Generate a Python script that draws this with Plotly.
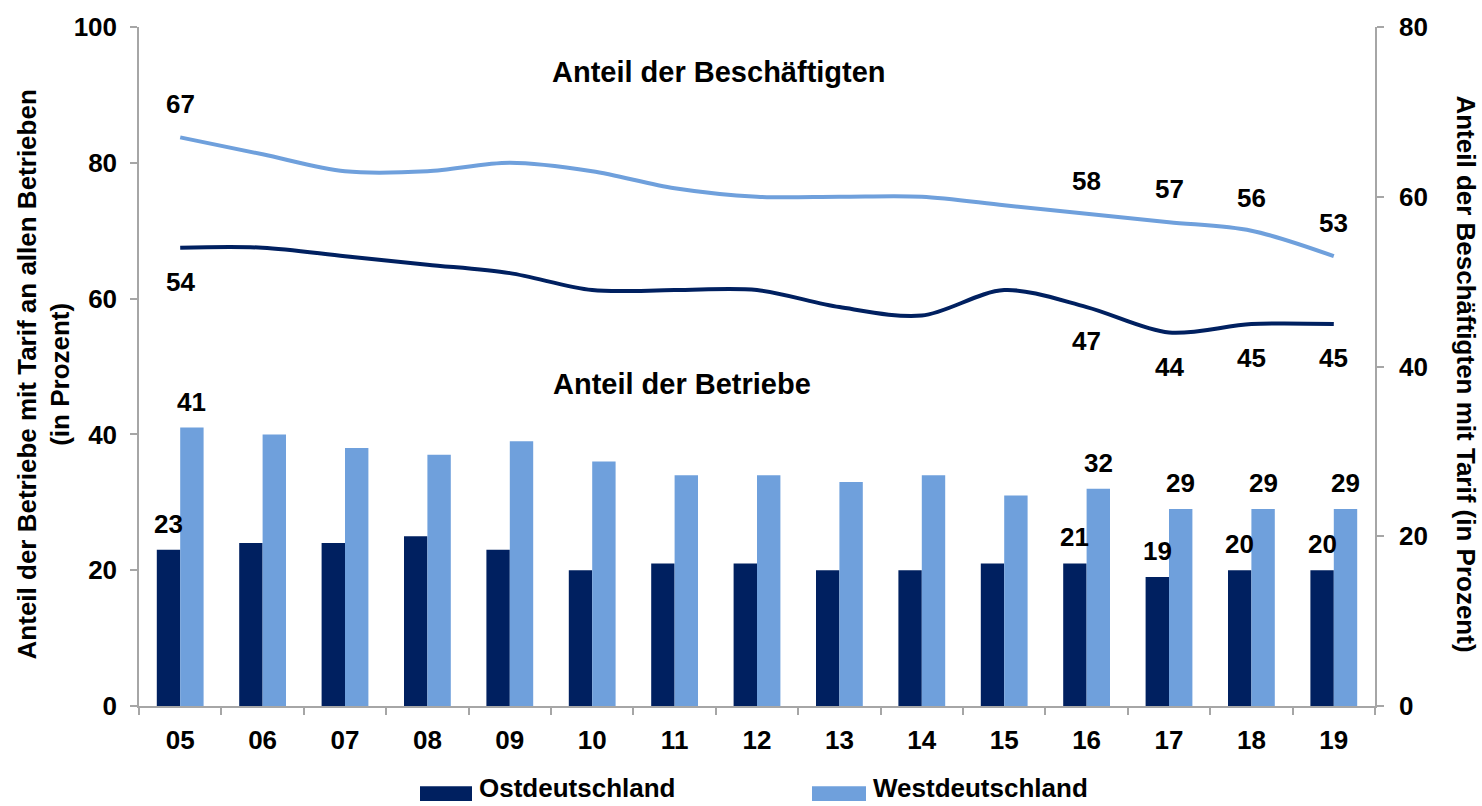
import plotly.graph_objects as go

# ---- data ----
years = ["05", "06", "07", "08", "09", "10", "11", "12", "13", "14", "15", "16", "17", "18", "19"]
ost_betriebe = [23, 24, 24, 25, 23, 20, 21, 21, 20, 20, 21, 21, 19, 20, 20]
west_betriebe = [41, 40, 38, 37, 39, 36, 34, 34, 33, 34, 31, 32, 29, 29, 29]
ost_beschaeftigte = [54, 54, 53, 52, 51, 49, 49, 49, 47, 46, 49, 47, 44, 45, 45]
west_beschaeftigte = [67, 65, 63, 63, 64, 63, 61, 60, 60, 60, 59, 58, 57, 56, 53]
labelled_years = ["05", "16", "17", "18", "19"]
series_names = ["Ostdeutschland", "Westdeutschland"]
left_ticks = [0, 20, 40, 60, 80, 100]
right_ticks = [0, 20, 40, 60, 80]

NAVY = "#002060"
LIGHT = "#6FA0DC"
AXIS = "#A6A6A6"
FONT = "Arial, 'Liberation Sans', sans-serif"

W, H = 1482, 806
ML, MR, MT, MB = 139, 107, 20, 100
PW, PH = W - ML - MR, H - MT - MB


def px_x(p):
    return (p - ML) / PW


def px_y(p):
    return (H - MB - p) / PH


fig = go.Figure()
fig.add_bar(x=years, y=ost_betriebe, name=series_names[0], marker=dict(color=NAVY, line=dict(width=0)),
            yaxis="y", showlegend=False)
fig.add_bar(x=years, y=west_betriebe, name=series_names[1], marker=dict(color=LIGHT, line=dict(width=0)),
            yaxis="y", showlegend=False)
fig.add_scatter(x=years, y=west_beschaeftigte, mode="lines", yaxis="y2", showlegend=False,
                line=dict(color=LIGHT, width=4, shape="spline", smoothing=0.9))
fig.add_scatter(x=years, y=ost_beschaeftigte, mode="lines", yaxis="y2", showlegend=False,
                line=dict(color=NAVY, width=4, shape="spline", smoothing=0.9))

lab_font = dict(family=FONT, size=26, color="black", weight="bold")
ann = []
bar_half = 11.7
for i, yr in enumerate(years):
    if yr not in labelled_years:
        continue
    ann.append(dict(x=i, y=ost_betriebe[i], xref="x", yref="y", text=str(ost_betriebe[i]), showarrow=False,
                    xshift=-bar_half, yshift=26, yanchor="middle", font=lab_font))
    ann.append(dict(x=i, y=west_betriebe[i], xref="x", yref="y", text=str(west_betriebe[i]), showarrow=False,
                    xshift=bar_half, yshift=26, yanchor="middle", font=lab_font))
    ann.append(dict(x=i, y=west_beschaeftigte[i], xref="x", yref="y2", text=str(west_beschaeftigte[i]),
                    showarrow=False, yshift=33, yanchor="middle", font=lab_font))
    ann.append(dict(x=i, y=ost_beschaeftigte[i], xref="x", yref="y2", text=str(ost_beschaeftigte[i]),
                    showarrow=False, yshift=-34, yanchor="middle", font=lab_font))

sec_font = dict(family=FONT, size=29, color="black", weight="bold")
ann.append(dict(x=px_x(719), y=px_y(65), xref="paper", yref="paper", text="Anteil der Beschäftigten",
                showarrow=False, xanchor="center", yanchor="middle", font=sec_font))
ann.append(dict(x=px_x(551), y=px_y(381), xref="paper", yref="paper", text="Anteil der Betriebe",
                showarrow=False, xanchor="left", yanchor="middle", font=sec_font))

title_font = dict(family=FONT, size=26, color="black", weight="bold")
ann.append(dict(x=px_x(44), y=px_y(371), xref="paper", yref="paper",
                text="Anteil der Betriebe mit Tarif an allen Betrieben<br>(in Prozent)",
                showarrow=False, textangle=-90, xanchor="center", yanchor="middle", font=title_font))
ann.append(dict(x=px_x(1466), y=px_y(370), xref="paper", yref="paper",
                text="Anteil der Beschäftigten mit Tarif (in Prozent)",
                showarrow=False, textangle=90, xanchor="center", yanchor="middle", font=title_font))

# custom legend
shapes = []
legend_items = [(series_names[0], NAVY, 420, 472), (series_names[1], LIGHT, 812, 866)]
for name, col, x0, x1 in legend_items:
    shapes.append(dict(type="rect", xref="paper", yref="paper", x0=px_x(x0), x1=px_x(x1),
                       y0=px_y(802), y1=px_y(787), fillcolor=col, line=dict(width=0)))
    ann.append(dict(x=px_x(x1 + 6), y=px_y(805), xref="paper", yref="paper", text=name, showarrow=False,
                    xanchor="left", yanchor="bottom", borderpad=0, font=title_font))

axis_common = dict(showline=True, linecolor=AXIS, linewidth=1.5, ticks="outside", ticklen=7,
                   tickcolor=AXIS, tickwidth=1.5, showgrid=False, zeroline=False,
                   tickfont=dict(family=FONT, size=26, color="black", weight="bold"))

fig.update_layout(
    width=W, height=H,
    margin=dict(l=ML, r=MR, t=MT, b=MB, pad=0),
    plot_bgcolor="white", paper_bgcolor="white",
    barmode="group", bargap=0.432, bargroupgap=0,
    showlegend=False,
    xaxis=dict(type="category", range=[-0.5, len(years) - 0.5], tickson="boundaries",
               ticklabelstandoff=10, **axis_common),
    yaxis=dict(range=[0, 100], tickvals=left_ticks, ticklabelstandoff=8, **axis_common),
    yaxis2=dict(range=[0, 80], tickvals=right_ticks, overlaying="y", side="right",
                ticklabelstandoff=10, **axis_common),
    annotations=ann,
    shapes=shapes,
)

fig.write_html("out.html", config={"displayModeBar": False},
               post_script="document.body.style.margin='0';document.body.style.overflow='hidden';")
